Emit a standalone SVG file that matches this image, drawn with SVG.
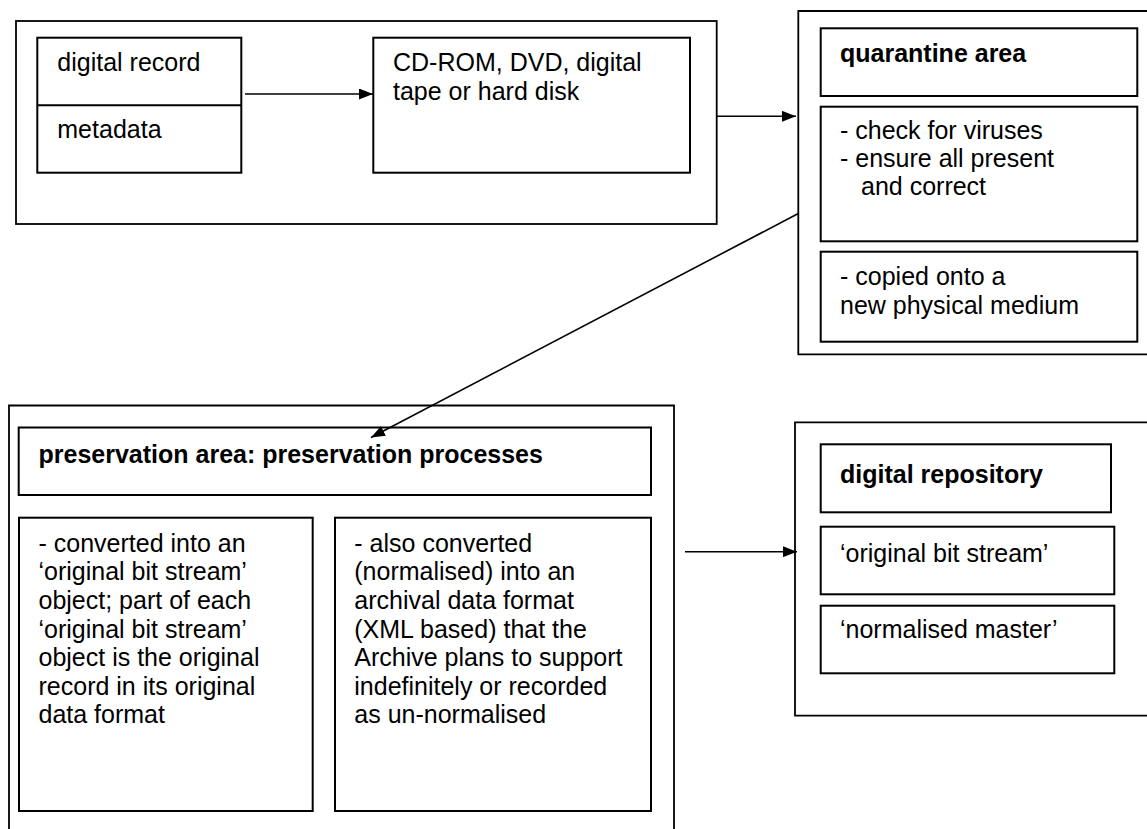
<svg xmlns="http://www.w3.org/2000/svg" width="1147" height="829" viewBox="0 0 1147 829">
  <style>
    .box { fill: none; stroke: #000; stroke-width: 2; }
    .outer { fill: none; stroke: #000; stroke-width: 1.8; }
    .conn { fill: none; stroke: #000; stroke-width: 1.6; }
    text { font-family: "Liberation Sans", Arial, sans-serif; font-size: 25px; fill: #000; }
    .bold { font-weight: bold; }
  </style>
  <defs>
    <marker id="arrow" markerUnits="userSpaceOnUse" markerWidth="14" markerHeight="11" refX="14" refY="5.5" orient="auto">
      <path d="M0,0 L14,5.5 L0,11 z" fill="#000"/>
    </marker>
  </defs>
  <rect width="1147" height="829" fill="#fff"/>

  <!-- transfer: record + metadata on removable media -->
  <g id="transfer">
    <rect class="outer" x="16" y="21" width="700.7" height="203"/>
    <g id="record">
      <rect class="box" x="37.3" y="37.7" width="204" height="135"/>
      <line class="box" x1="37.3" y1="105.3" x2="241.3" y2="105.3"/>
      <text x="57.3" y="71">digital record</text>
      <text x="57.3" y="137.5">metadata</text>
    </g>
    <g id="media">
      <rect class="box" x="373.3" y="37.7" width="316.7" height="135"/>
      <text x="393" y="71">CD-ROM, DVD, digital</text>
      <text x="393" y="99.5">tape or hard disk</text>
    </g>
  </g>

  <!-- quarantine -->
  <g id="quarantine">
    <path class="outer" d="M1150,11 H798.3 V354.3 H1150"/>
    <rect class="box" x="820.7" y="28.3" width="316.6" height="67.7"/>
    <text class="bold" x="840" y="62">quarantine area</text>
    <rect class="box" x="820.7" y="106.7" width="316.6" height="134.6"/>
    <text x="840" y="138.5">- check for viruses</text>
    <text x="840" y="166.9">- ensure all present</text>
    <text x="861" y="195.3">and correct</text>
    <rect class="box" x="820.7" y="251.7" width="316.6" height="90"/>
    <text x="840" y="285.2">- copied onto a</text>
    <text x="840" y="313.6">new physical medium</text>
  </g>

  <!-- preservation -->
  <g id="preservation">
    <path class="outer" d="M9,829 V405.5 H674 V829"/>
    <rect class="box" x="18.7" y="427.5" width="632.3" height="67.5"/>
    <text class="bold" x="38.5" y="462.5">preservation area: preservation processes</text>
    <g id="bitstream">
      <rect class="box" x="19" y="517.7" width="293.7" height="293.3"/>
      <text x="38.5" y="551.7">- converted into an</text>
      <text x="38.5" y="580.3">‘original bit stream’</text>
      <text x="38.5" y="608.9">object; part of each</text>
      <text x="38.5" y="637.5">‘original bit stream’</text>
      <text x="38.5" y="666.1">object is the original</text>
      <text x="38.5" y="694.7">record in its original</text>
      <text x="38.5" y="723.3">data format</text>
    </g>
    <g id="normalised">
      <rect class="box" x="335" y="517.7" width="316" height="293.3"/>
      <text x="354.3" y="551.7">- also converted</text>
      <text x="354.3" y="580.3">(normalised) into an</text>
      <text x="354.3" y="608.9">archival data format</text>
      <text x="354.3" y="637.5">(XML based) that the</text>
      <text x="354.3" y="666.1">Archive plans to support</text>
      <text x="354.3" y="694.7">indefinitely or recorded</text>
      <text x="354.3" y="723.3">as un-normalised</text>
    </g>
  </g>

  <!-- repository -->
  <g id="repository">
    <path class="outer" d="M1150,422.3 H795 V715.7 H1150"/>
    <rect class="box" x="820.7" y="444.3" width="290.3" height="68"/>
    <text class="bold" x="840" y="483.3">digital repository</text>
    <rect class="box" x="820.7" y="526.7" width="293.6" height="67.6"/>
    <text x="840" y="561.7">‘original bit stream’</text>
    <rect class="box" x="820.7" y="605.7" width="293.6" height="67.6"/>
    <text x="840" y="638.3">‘normalised master’</text>
  </g>

  <g id="connectors">
    <line class="conn" x1="245" y1="94" x2="373" y2="94" marker-end="url(#arrow)"/>
    <line class="conn" x1="716.7" y1="116.3" x2="796" y2="116.3" marker-end="url(#arrow)"/>
    <line class="conn" x1="798.3" y1="213.5" x2="371" y2="437.5" marker-end="url(#arrow)"/>
    <line class="conn" x1="685" y1="551.7" x2="797" y2="551.7" marker-end="url(#arrow)"/>
  </g>
</svg>
